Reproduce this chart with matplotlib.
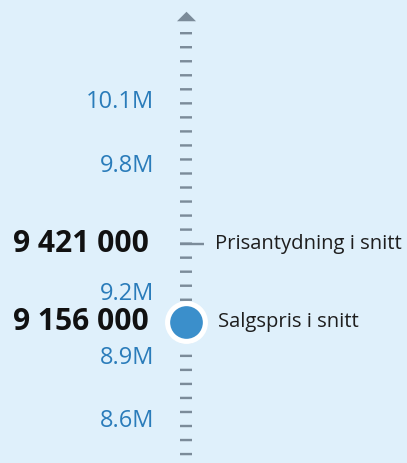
import matplotlib
matplotlib.use("Agg")
import matplotlib.pyplot as plt
from matplotlib.path import Path
from matplotlib.transforms import offset_copy, blended_transform_factory

plt.rcParams['font.family'] = ['Open Sans', 'DejaVu Sans']
plt.rcParams['lines.scale_dashes'] = False

# data
tick_values = [8.6e6, 8.9e6, 9.2e6, 9.8e6, 10.1e6]
tick_labels = ['8.6M', '8.9M', '9.2M', '9.8M', '10.1M']
asking_price = 9421000
sales_price = 9156000
asking_text = 'Prisantydning i snitt'
sales_text = 'Salgspris i snitt'


def fmt(v):
    return f'{v:,}'.replace(',', ' ')


bg = '#dff0fb'
grey = '#7b8b99'
blue_txt = '#2a7cba'
dot_blue = '#3b8fcb'

fig = plt.figure(figsize=(4.07, 4.63), dpi=100, facecolor=bg)
ax = fig.add_axes([0, 0, 1, 1], facecolor=bg)
ax.set_xlim(0, 407)
ax.set_ylim(8.391e6, 10.564e6)
axis_x = 186

# axis: tick labels only, spine hidden
for s in ax.spines.values():
    s.set_visible(False)
ax.spines['left'].set_position(('data', axis_x))
ax.set_xticks([])
ax.set_yticks(tick_values)
ax.set_yticklabels(tick_labels)
ax.tick_params(axis='y', length=0, pad=23.2, labelsize=17, labelcolor=blue_txt)

# decorative dashed scale line + arrow
blend = blended_transform_factory(ax.transData, ax.transAxes)
ax.plot([axis_x, axis_x], [0.9305, 0], transform=blend, color=grey,
        lw=12 / 1.389, dashes=(2.4 / 1.389, 11.63 / 1.389), solid_capstyle='butt',
        dash_capstyle='butt')
tri = Path([(-1, -0.5), (1, -0.5), (0, 0.5), (-1, -0.5)],
           [Path.MOVETO, Path.LINETO, Path.LINETO, Path.CLOSEPOLY])
ax.plot([axis_x], [0.9658], transform=blend, marker=tri, ms=19 / 1.389,
        color=grey, mec='none', ls='none')

# asking price tick
ax.plot([180, 204], [asking_price, asking_price], color=grey, lw=2.4 / 1.389,
        solid_capstyle='butt')
ax.text(149, asking_price, fmt(asking_price), ha='right', va='center',
        fontsize=21.6, fontweight='bold', color='#111111')
ax.text(215, asking_price, asking_text, ha='left', va='center',
        fontsize=14.6, color='#1e1e1e')

# sales price dot (anchored by its top edge, as in the original)
r = 21.5 / 1.389
tdot = offset_copy(ax.transData, fig=fig, y=-r, units='points')
ax.plot([axis_x], [sales_price], transform=tdot, marker='o', ms=37.8 / 1.389,
        mfc=dot_blue, mec='white', mew=5.1 / 1.389, ls='none')
ax.text(149, sales_price, fmt(sales_price), transform=tdot, ha='right',
        va='center', fontsize=21.6, fontweight='bold', color='#111111')
ax.text(218.5, sales_price, sales_text, transform=tdot, ha='left',
        va='center', fontsize=14.6, color='#1e1e1e')

fig.savefig('out.png', dpi=100, facecolor=bg)
